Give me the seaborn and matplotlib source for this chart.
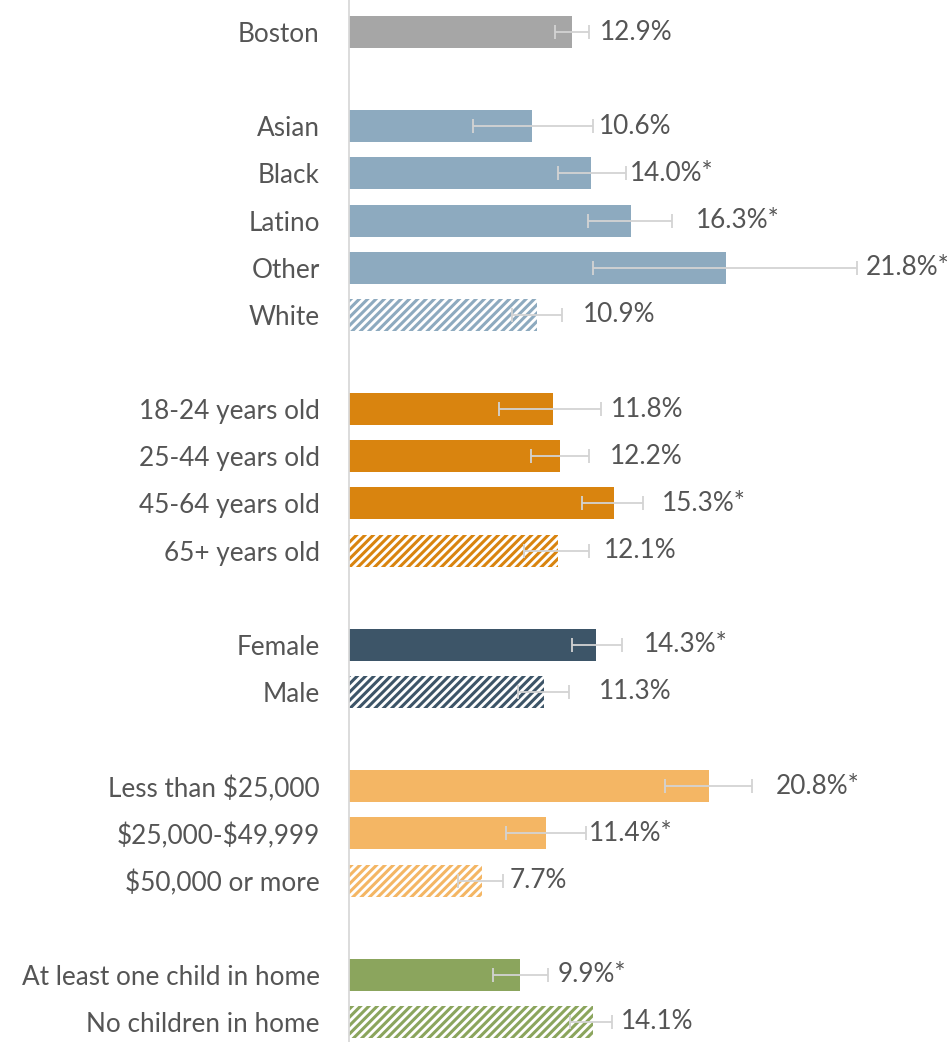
import numpy as np
import pandas as pd
import matplotlib
matplotlib.use("Agg")
import matplotlib.pyplot as plt
import seaborn as sns

# Data
labels = ['Boston',
          'Asian', 'Black', 'Latino', 'Other', 'White',
          '18-24 years old', '25-44 years old', '45-64 years old', '65+ years old',
          'Female', 'Male',
          r'Less than \$25,000', r'\$25,000-\$49,999', r'\$50,000 or more',
          'At least one child in home', 'No children in home']
groups = ['boston',
          'race', 'race', 'race', 'race', 'race',
          'age', 'age', 'age', 'age',
          'sex', 'sex',
          'income', 'income', 'income',
          'kids', 'kids']
values = [12.9, 10.6, 14.0, 16.3, 21.8, 10.9, 11.8, 12.2, 15.3, 12.1,
          14.3, 11.3, 20.8, 11.4, 7.7, 9.9, 14.1]
ci_low = [11.9, 7.2, 12.1, 13.8, 14.1, 9.4, 8.7, 10.5, 13.5, 10.1,
          12.9, 9.8, 18.3, 9.1, 6.3, 8.3, 12.8]
ci_high = [13.9, 14.1, 16.0, 18.7, 29.4, 12.3, 14.6, 13.9, 17.0, 13.9,
           15.8, 12.7, 23.3, 13.7, 8.9, 11.5, 15.2]
significant = [False, False, True, True, True, False, False, False, True, False,
               True, False, True, True, False, True, False]
reference = [False, False, False, False, False, True, False, False, False, True,
             False, True, False, False, True, False, True]

# layout: slot positions with an empty slot between groups
positions = [0, 2, 3, 4, 5, 6, 8, 9, 10, 11, 13, 14, 16, 17, 18, 20, 21]
label_pad_px = [11, 6, 4, 24, 8, 21, 9, 21, 19, 15, 22, 30, 24, 3, 7, 10, 9]

GROUP_COLORS = {
    'boston': '#A6A6A6',
    'race': '#8DAABF',
    'age': '#D9840F',
    'sex': '#3D5568',
    'income': '#F4B664',
    'kids': '#8BA55D',
}
TEXT_COLOR = '#555555'
ERR_COLOR = '#D3D3D3'
FONT_SIZE = 18.8


def main():
    sns.set_style('white')
    plt.rcParams['font.family'] = ['Lato', 'DejaVu Sans']
    plt.rcParams['hatch.linewidth'] = 2.2

    df = pd.DataFrame({'label': labels, 'group': groups, 'value': values,
                       'pos': positions})

    fig = plt.figure(figsize=(9.48, 10.42), dpi=100)
    ax = fig.add_axes([349 / 948, 0, 1 - 349 / 948, 1])

    sns.barplot(data=df, x='value', y='pos', orient='h', native_scale=True,
                hue='group', palette=GROUP_COLORS, width=0.68, legend=False,
                saturation=1, linewidth=0, ax=ax)

    # restyle reference-category bars as hatched
    for patch in ax.patches:
        yc = patch.get_y() + patch.get_height() / 2
        i = int(np.argmin([abs(yc - p) for p in positions]))
        color = GROUP_COLORS[groups[i]]
        if reference[i]:
            patch.set_facecolor('white')
            patch.set_edgecolor(color)
            patch.set_hatch('////')
            patch.set_linewidth(0)

    vals = np.array(values)
    xerr = np.vstack([vals - np.array(ci_low), np.array(ci_high) - vals])
    ax.errorbar(vals, positions, xerr=xerr, fmt='none', ecolor=ERR_COLOR,
                elinewidth=1.3, capsize=5, capthick=1.3, zorder=5)

    for i, v in enumerate(values):
        txt = f'{v:.1f}%' + ('*' if significant[i] else '')
        ax.annotate(txt, xy=(ci_high[i], positions[i]),
                    xytext=(label_pad_px[i] * 0.72, 0), textcoords='offset points',
                    ha='left', va='center', fontsize=FONT_SIZE, color=TEXT_COLOR)

    ax.set_xlim(0, (948 - 349) / 17.29)
    ax.set_ylim(21 + 20 / 47.14, -32 / 47.14)
    ax.set_yticks(positions, labels)
    ax.set_xticks([])
    ax.set_xlabel('')
    ax.set_ylabel('')
    ax.tick_params(axis='y', length=0, pad=21, labelsize=FONT_SIZE, labelcolor=TEXT_COLOR)

    for side in ['top', 'right', 'bottom']:
        ax.spines[side].set_visible(False)
    ax.spines['left'].set_color('#D9D9D9')
    ax.spines['left'].set_linewidth(1.3)

    fig.savefig('out.png', dpi=100)
    plt.close(fig)


if __name__ == '__main__':
    main()
